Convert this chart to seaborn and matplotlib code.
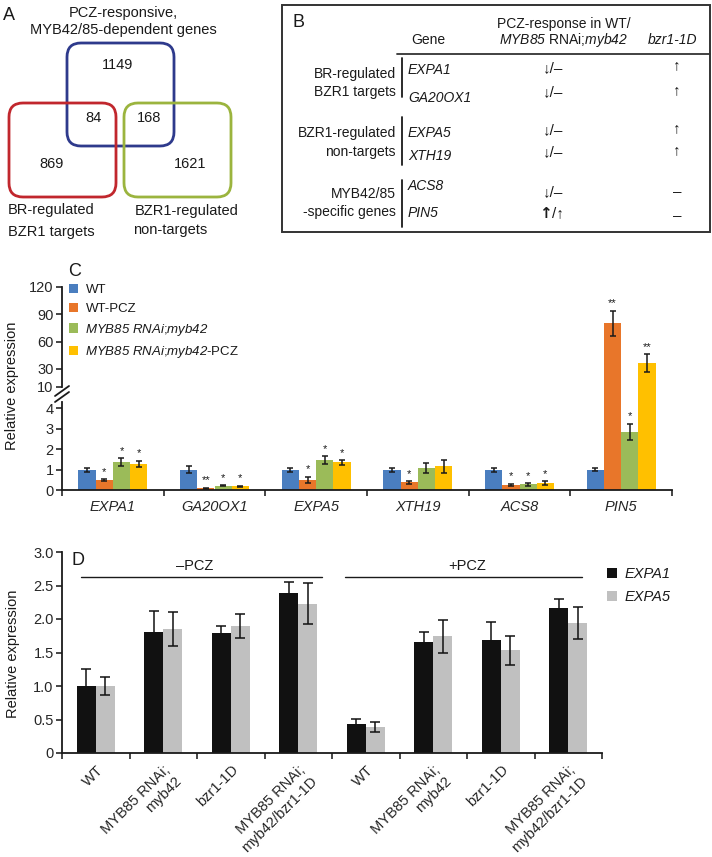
import numpy as np
import pandas as pd
import seaborn as sns
import matplotlib.pyplot as plt
from matplotlib.patches import FancyBboxPatch, Rectangle, Patch

sns.set_style('ticks')
plt.rcParams['font.family'] = ['Liberation Sans', 'DejaVu Sans']
plt.rcParams['mathtext.fontset'] = 'custom'
plt.rcParams['mathtext.rm'] = 'Liberation Sans'
plt.rcParams['mathtext.it'] = 'Liberation Sans:italic'
# \mathsf is used for italic runs that contain digits (mathit keeps digits upright)
plt.rcParams['mathtext.sf'] = 'Liberation Sans:italic'
plt.rcParams['axes.linewidth'] = 1.3
plt.rcParams['text.color'] = '#1a1a1a'
plt.rcParams['axes.edgecolor'] = '#1a1a1a'

# ---- panel A: Venn counts
venn_names = ['MYB only', 'MYB & BR', 'MYB & BZR1', 'BR only', 'BZR1 only']
venn_counts = [1149, 84, 168, 869, 1621]

# ---- panel B: table
table_groups = ['BR-regulated\nBZR1 targets', 'BZR1-regulated\nnon-targets', 'MYB42/85\n-specific genes']
table_genes = ['EXPA1', 'GA20OX1', 'EXPA5', 'XTH19', 'ACS8', 'PIN5']
pcz_response = ['↓/–', '↓/–', '↓/–', '↓/–', '↓/–', 'up/↑']
bzr_response = ['↑', '↑', '↑', '↑', '–', '–']

# ---- panel C: relative expression
c_genes = ['EXPA1', 'GA20OX1', 'EXPA5', 'XTH19', 'ACS8', 'PIN5']
c_lines = ['WT', 'WT-PCZ', 'MYB85 RNAi;myb42', 'MYB85 RNAi;myb42-PCZ']
c_colors = ['#4a7ebf', '#e8762a', '#9bbb59', '#ffc000']
c_wt = [1.0, 1.0, 1.0, 1.0, 1.0, 1.0]
c_wt_pcz = [0.48, 0.09, 0.51, 0.37, 0.25, 80]
c_rnai = [1.37, 0.22, 1.47, 1.08, 0.27, 2.85]
c_rnai_pcz = [1.29, 0.19, 1.36, 1.15, 0.35, 36]
c_wt_err = [0.1, 0.18, 0.1, 0.1, 0.1, 0.08]
c_wt_pcz_err = [0.05, 0.03, 0.15, 0.07, 0.06, 14]
c_rnai_err = [0.18, 0.03, 0.18, 0.25, 0.05, 0.4]
c_rnai_pcz_err = [0.15, 0.03, 0.12, 0.3, 0.1, 10]
c_wt_sig = ['', '', '', '', '', '']
c_wt_pcz_sig = ['*', '**', '*', '*', '*', '**']
c_rnai_sig = ['*', '*', '*', '', '*', '*']
c_rnai_pcz_sig = ['*', '*', '*', '', '*', '**']

# ---- panel D
d_labels = ['WT', 'MYB85 RNAi;\nmyb42', 'bzr1-1D', 'MYB85 RNAi;\nmyb42/bzr1-1D',
            'WT', 'MYB85 RNAi;\nmyb42', 'bzr1-1D', 'MYB85 RNAi;\nmyb42/bzr1-1D']
d_genes = ['EXPA1', 'EXPA5']
d_colors = ['#111111', '#c0c0c0']
d_expa1 = [1.0, 1.8, 1.79, 2.39, 0.43, 1.66, 1.68, 2.16]
d_expa1_err = [0.25, 0.32, 0.11, 0.16, 0.08, 0.15, 0.28, 0.14]
d_expa5 = [1.0, 1.85, 1.9, 2.23, 0.39, 1.74, 1.53, 1.94]
d_expa5_err = [0.14, 0.25, 0.18, 0.3, 0.08, 0.25, 0.22, 0.24]

W, H = 712, 857


def fx(px):
    return px / W


def fy(py):
    return 1 - py / H


def box(left, top, right, bottom):
    # pixel box (y down) -> figure rect
    return [fx(left), fy(bottom), fx(right) - fx(left), fy(top) - fy(bottom)]


fig = plt.figure(figsize=(7.12, 8.57), dpi=100)

# broken axis: upper part (10..120 over 100 px) and lower part (0..4); the two boxes
# overlap slightly so the tall PIN5 bars run through the break without a seam
gap_px = 15
lower_top = 395
lower_px_per_unit = 20.45
ax_cu = fig.add_axes(box(62, 287, 672, 387 + gap_px))
ax_cl = fig.add_axes(box(62, lower_top, 672, 490))
ax_d = fig.add_axes(box(62, 552, 602, 753))
for ax in (ax_cu, ax_cl):
    ax.patch.set_alpha(0)

# ---------------- panel C
df_c = pd.DataFrame({
    'gene': np.tile(c_genes, 4),
    'line': np.repeat(c_lines, 6),
    'value': np.concatenate([c_wt, c_wt_pcz, c_rnai, c_rnai_pcz]),
})
c_errs = [c_wt_err, c_wt_pcz_err, c_rnai_err, c_rnai_pcz_err]
c_sigs = [c_wt_sig, c_wt_pcz_sig, c_rnai_sig, c_rnai_pcz_sig]
upper_lo = 10

for ax in (ax_cu, ax_cl):
    sns.barplot(data=df_c, x='gene', y='value', hue='line', order=c_genes, hue_order=c_lines,
                palette=c_colors, width=0.68, gap=0, errorbar=None, saturation=1,
                linewidth=0, legend=False, ax=ax)
    for cont, errs in zip(ax.containers, c_errs):
        xs, hs, es = [], [], []
        for b, e in zip(cont, errs):
            if ax is ax_cu and b.get_height() < upper_lo:
                b.set_visible(False)
                continue
            xs.append(b.get_x() + b.get_width() / 2)
            hs.append(b.get_height())
            es.append(e)
        if xs:
            ax.errorbar(xs, hs, yerr=es, fmt='none', ecolor='#1a1a1a', elinewidth=1.1,
                        capsize=2.5, capthick=1.1)
    ax.set_xlabel('')
    ax.set_ylabel('')

# significance stars
for cont, sigs, errs in zip(ax_cl.containers, c_sigs, c_errs):
    for b, s, e in zip(cont, sigs, errs):
        if not s:
            continue
        top = b.get_height() + e
        target = ax_cu if top > upper_lo else ax_cl
        target.annotate(s, (b.get_x() + b.get_width() / 2, top), xytext=(0, 1.5),
                        textcoords='offset points', ha='center', va='bottom', fontsize=8)

ax_cu.set_ylim(upper_lo - gap_px * 110 / 100, 120)
ax_cu.set_yticks([10, 30, 60, 90, 120])
ax_cu.spines['left'].set_bounds(upper_lo, 120)
ax_cu.tick_params(axis='x', bottom=False, labelbottom=False)
sns.despine(ax=ax_cu, bottom=True)
ax_cl.set_ylim(0, (490 - lower_top) / lower_px_per_unit)
ax_cl.set_yticks([0, 1, 2, 3, 4])
sns.despine(ax=ax_cl)
ax_cl.spines['left'].set_bounds(0, 4.3)
for ax in (ax_cu, ax_cl):
    ax.tick_params(axis='y', labelsize=10.5, length=4, width=1.2, pad=2)

ax_cl.set_xticks(range(len(c_genes)))
ax_cl.set_xticklabels(c_genes, style='italic', fontsize=10.5)
ax_cl.set_xticks(np.arange(-0.5, len(c_genes)), minor=True)
ax_cl.tick_params(axis='x', which='major', length=0, pad=7)
ax_cl.tick_params(axis='x', which='minor', length=4, width=1.2, direction='out')
ax_cl.set_xlim(-0.5, len(c_genes) - 0.5)
ax_cu.set_xlim(-0.5, len(c_genes) - 0.5)

c_leg_labels = ['WT', 'WT-PCZ', r'$\mathsf{MYB85\ RNAi}$;$\mathsf{myb42}$',
                r'$\mathsf{MYB85\ RNAi}$;$\mathsf{myb42}$-PCZ']
leg = ax_cu.legend([Patch(facecolor=c, edgecolor='none') for c in c_colors], c_leg_labels,
                   loc='upper left', bbox_to_anchor=(fx(69), fy(284)),
                   bbox_transform=fig.transFigure, frameon=False, fontsize=9.5,
                   handlelength=0.7, handleheight=0.7, handletextpad=0.55,
                   labelspacing=0.5, borderpad=0, borderaxespad=0)

fig.text(fx(68), fy(271), 'C', fontsize=13, ha='left', va='center')
fig.text(fx(12), fy(386), 'Relative expression', rotation=90, fontsize=10.5,
         ha='center', va='center')

# ---------------- panel D
d_cond = [f'c{i}' for i in range(len(d_labels))]
df_d = pd.DataFrame({
    'cond': d_cond * 2,
    'gene': np.repeat(d_genes, len(d_cond)),
    'value': d_expa1 + d_expa5,
})
sns.barplot(data=df_d, x='cond', y='value', hue='gene', order=d_cond, hue_order=d_genes,
            palette=d_colors, width=0.57, gap=0, errorbar=None, saturation=1,
            linewidth=0, legend=False, ax=ax_d)
for cont, errs in zip(ax_d.containers, [d_expa1_err, d_expa5_err]):
    xs = [b.get_x() + b.get_width() / 2 for b in cont]
    hs = [b.get_height() for b in cont]
    ax_d.errorbar(xs, hs, yerr=errs, fmt='none', ecolor='#111111', elinewidth=1.1,
                  capsize=3.5, capthick=1.1)
ax_d.set_xlabel('')
ax_d.set_ylabel('')
ax_d.set_ylim(0, 3)
ax_d.set_yticks([0, 0.5, 1, 1.5, 2, 2.5, 3])
ax_d.set_yticklabels(['0', '0.5', '1.0', '1.5', '2.0', '2.5', '3.0'])
ax_d.tick_params(axis='y', labelsize=10.5, length=4, width=1.2, pad=2)
ax_d.set_xlim(-0.5, len(d_cond) - 0.5)
ax_d.set_xticks(range(len(d_cond)))
ax_d.set_xticklabels(d_labels, rotation=45, ha='right', rotation_mode='anchor', fontsize=10.5)
ax_d.set_xticks(np.arange(-0.5, len(d_cond)), minor=True)
ax_d.tick_params(axis='x', which='major', length=0, pad=7)
ax_d.tick_params(axis='x', which='minor', length=4, width=1.2, direction='out')
sns.despine(ax=ax_d)

ax_d.plot([-0.22, 3.35], [2.63, 2.63], color='#1a1a1a', lw=1.0, clip_on=False)
ax_d.plot([3.69, 7.2], [2.63, 2.63], color='#1a1a1a', lw=1.0, clip_on=False)
ax_d.text(1.46, 2.79, '–PCZ', ha='center', va='center', fontsize=10.5)
ax_d.text(5.5, 2.79, '+PCZ', ha='center', va='center', fontsize=10.5)
ax_d.text(0.018, 0.96, 'D', transform=ax_d.transAxes, fontsize=13, ha='left', va='center')

ax_d.legend([Patch(facecolor=c, edgecolor='none') for c in d_colors], d_genes,
            loc='upper left', bbox_to_anchor=(fx(607), fy(567)),
            bbox_transform=fig.transFigure, frameon=False,
            prop={'style': 'italic', 'size': 10.5},
            handlelength=0.7, handleheight=0.7, handletextpad=0.5,
            labelspacing=0.6, borderpad=0, borderaxespad=0)
fig.text(fx(13), fy(654), 'Relative expression', rotation=90, fontsize=10.5,
         ha='center', va='center')

# ---------------- overlay in pixel coordinates for A, B and axis break
ax0 = fig.add_axes([0, 0, 1, 1])
ax0.set_xlim(0, W)
ax0.set_ylim(H, 0)
ax0.axis('off')
ax0.patch.set_alpha(0)

# axis break marks
ax0.plot([55, 69], [396, 386], color='#1a1a1a', lw=1.3)
ax0.plot([55, 69], [402, 392], color='#1a1a1a', lw=1.3)

# panel A
venn_boxes = [((67, 43), '#2e3a8c'), ((9, 103), '#c1272d'), ((124, 103), '#9bb43e')]
for (x0, y0), col in venn_boxes:
    h = 103 if col == '#2e3a8c' else 94
    ax0.add_patch(FancyBboxPatch((x0, y0), 107, h, boxstyle='round,pad=0,rounding_size=14',
                                 fill=False, edgecolor=col, lw=2.0))
venn_pos = [(118, 65), (94, 118), (149, 118), (52, 164), (190, 164)]
for (x, y), n in zip(venn_pos, venn_counts):
    ax0.text(x, y, str(n), ha='center', va='center', fontsize=10.5)
ax0.text(3, 15, 'A', fontsize=13, ha='left', va='center')
ax0.text(123, 13, 'PCZ-responsive,', ha='center', va='center', fontsize=10.5)
ax0.text(123, 30, 'MYB42/85-dependent genes', ha='center', va='center', fontsize=10.5)
ax0.text(8, 210, 'BR-regulated', ha='left', va='center', fontsize=10.5)
ax0.text(8, 232, 'BZR1 targets', ha='left', va='center', fontsize=10.5)
ax0.text(135, 211, 'BZR1-regulated', ha='left', va='center', fontsize=10.5)
ax0.text(133, 230, 'non-targets', ha='left', va='center', fontsize=10.5)

# panel B
ax0.add_patch(Rectangle((282, 5), 428, 227, fill=False, edgecolor='#333333', lw=1.4))
ax0.text(292, 22, 'B', fontsize=13, ha='left', va='center')
ax0.text(428, 40, 'Gene', ha='center', va='center', fontsize=10)
ax0.text(564, 24, 'PCZ-response in WT/', ha='center', va='center', fontsize=10)
ax0.text(564, 40, r'$\mathsf{MYB85}$ RNAi;$\mathsf{myb42}$', ha='center', va='center', fontsize=10)
ax0.text(673, 40, 'bzr1-1D', ha='center', va='center', fontsize=10, style='italic')
ax0.plot([397, 710], [54, 54], color='#333333', lw=1.3)

group_y = [(74, 92), (133, 152), (194, 212)]
group_bar = [(58, 97), (117, 165), (180, 227)]
for label, (y1, y2), (b1, b2) in zip(table_groups, group_y, group_bar):
    l1, l2 = label.split('\n')
    ax0.text(396, y1, l1, ha='right', va='center', fontsize=10)
    ax0.text(396, y2, l2, ha='right', va='center', fontsize=10)
    ax0.plot([402, 402], [b1, b2], color='#1a1a1a', lw=1.3)

gene_y = [70, 98, 133, 156, 186, 213]
pcz_y = [68, 92, 130, 152, 192, 213]
bzr_y = [65, 90, 128, 150, 192, 216]
for g, yg, r, yr, bz, yb in zip(table_genes, gene_y, pcz_response, pcz_y, bzr_response, bzr_y):
    ax0.text(408, yg, g, ha='left', va='center', fontsize=10, style='italic')
    if r.startswith('up'):
        ax0.text(552, yr, '↑', ha='right', va='center', fontsize=11, weight='bold',
                 family=['DejaVu Sans'])
        ax0.text(552, yr, r[2:], ha='left', va='center', fontsize=11)
    else:
        ax0.text(553, yr, r, ha='center', va='center', fontsize=11)
    ax0.text(677, yb, bz, ha='center', va='center', fontsize=11)

fig.savefig('out.png', dpi=100)
